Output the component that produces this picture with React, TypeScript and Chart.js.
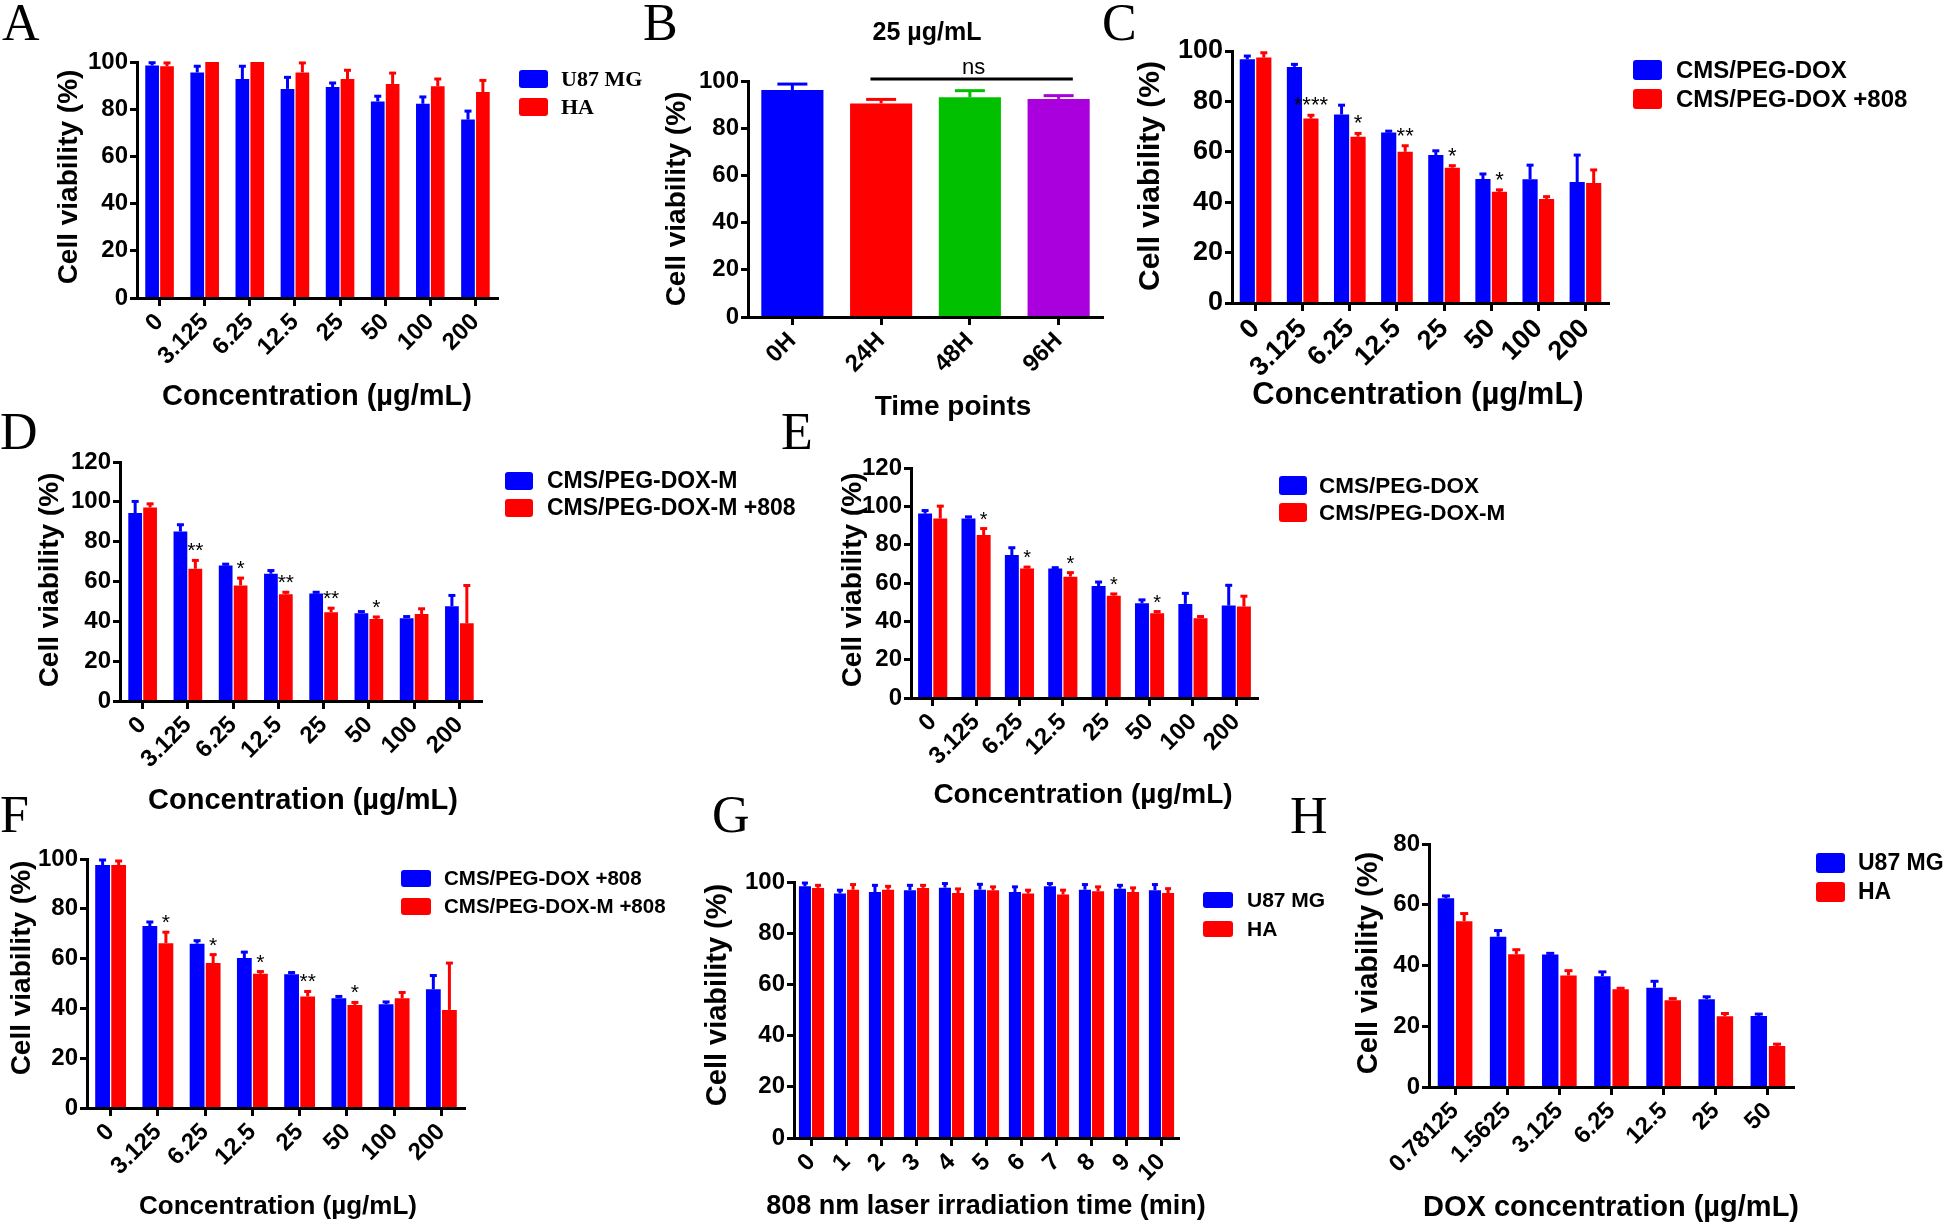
import React, { useEffect, useRef } from 'react';
import { Chart, registerables } from 'chart.js';

Chart.register(...registerables);

const PAGE_W = 1944;
const PAGE_H = 1224;
const SANS = '"Liberation Sans", Arial, Helvetica, sans-serif';
const SERIF = '"Liberation Serif", "Times New Roman", Times, serif';
const BLUE = '#0000FF';
const RED = '#FF0000';
const GREEN = '#00C000';
const PURPLE = '#AA00DD';
const Y_W = 56;

// ---------- data ----------
const CONC_CATS = ['0', '3.125', '6.25', '12.5', '25', '50', '100', '200'];

// A
const A_U87 = [98.5, 95.6, 92.8, 88.6, 89.4, 83.3, 82.3, 75.6];
const A_U87_ERR = [1.2, 2.6, 5.4, 4.9, 1.7, 2.2, 2.9, 3.6];
const A_HA = [98.2, 100, 100, 95.6, 92.8, 90.7, 89.7, 87.3];
const A_HA_ERR = [1.4, 0, 0, 4.0, 3.7, 4.6, 3.1, 4.9];

// B
const B_CATS = ['0H', '24H', '48H', '96H'];
const B_VALS = [96.2, 90.5, 93.1, 92.4];
const B_ERR = [2.5, 1.7, 2.8, 1.4];
const B_COLORS = [BLUE, RED, GREEN, PURPLE];

// C
const C_DOX = [96.7, 93.7, 74.8, 67.7, 58.7, 49.2, 49.1, 48.0];
const C_DOX_ERR = [1.3, 1.0, 3.7, 0.5, 1.7, 2.0, 5.6, 10.7];
const C_DOX808 = [97.4, 73.2, 66.0, 60.0, 53.7, 44.1, 41.3, 47.6];
const C_DOX808_ERR = [1.9, 1.3, 1.3, 2.4, 0.8, 0.8, 0.9, 5.2];
const C_STARS = ['', '****', '*', '**', '*', '*', '', ''];

// D
const D_M = [94.4, 85.1, 68.0, 63.9, 54.0, 44.1, 41.6, 47.6];
const D_M_ERR = [5.8, 3.4, 0.7, 1.6, 0.6, 0.8, 0.8, 5.4];
const D_M808 = [97.2, 66.4, 58.0, 53.6, 44.6, 41.2, 43.7, 39.0];
const D_M808_ERR = [1.8, 4.2, 3.7, 1.0, 2.0, 1.0, 2.6, 19.0];
const D_STARS = ['', '**', '*', '**', '**', '*', '', ''];

// E
const E_DOX = [96.2, 93.6, 74.6, 67.6, 58.4, 49.4, 49.1, 48.2];
const E_DOX_ERR = [1.6, 0.9, 3.8, 0.4, 2.1, 1.8, 5.5, 10.6];
const E_M = [93.6, 85.0, 67.6, 63.3, 53.4, 44.2, 41.6, 47.7];
const E_M_ERR = [6.5, 3.4, 0.7, 2.1, 0.9, 0.9, 0.9, 5.4];
const E_STARS = ['', '*', '*', '*', '*', '*', '', ''];

// F
const F_DOX808 = [97.6, 73.1, 66.0, 60.2, 53.7, 44.1, 41.7, 47.7];
const F_DOX808_ERR = [2.0, 1.6, 1.2, 2.4, 0.7, 0.7, 0.9, 5.5];
const F_M808 = [97.6, 66.2, 58.2, 53.9, 44.8, 41.4, 44.1, 39.4];
const F_M808_ERR = [1.6, 4.4, 3.4, 0.9, 2.0, 1.0, 2.3, 18.8];
const F_STARS = ['', '*', '*', '*', '**', '*', '', ''];

// G
const G_CATS = ['0', '1', '2', '3', '4', '5', '6', '7', '8', '9', '10'];
const G_U87 = [98.3, 95.5, 96.1, 96.8, 97.8, 97.0, 96.1, 98.3, 97.0, 97.4, 96.8];
const G_U87_ERR = [1.3, 1.3, 2.6, 1.9, 1.6, 2.1, 2.0, 1.1, 2.0, 1.3, 2.2];
const G_HA = [97.7, 97.0, 97.0, 97.7, 95.7, 96.8, 95.5, 95.1, 96.4, 96.1, 95.7];
const G_HA_ERR = [1.0, 2.0, 1.3, 1.0, 1.6, 1.3, 1.3, 1.7, 1.7, 1.6, 1.7];

// H
const H_CATS = ['0.78125', '1.5625', '3.125', '6.25', '12.5', '25', '50'];
const H_U87 = [62.1, 49.5, 43.6, 36.5, 32.7, 28.9, 23.4];
const H_U87_ERR = [0.8, 2.0, 0.4, 1.4, 2.1, 0.8, 0.6];
const H_HA = [54.6, 43.7, 36.7, 32.2, 28.6, 23.3, 13.5];
const H_HA_ERR = [2.5, 1.5, 1.6, 0.3, 0.5, 0.9, 0.6];

// ---------- layout ----------
type Series = { label: string; values: number[]; errors: number[]; color: string | string[] };
type Legend = { x: number; ys: number[]; w: number; h: number; textX: number; size: number; family: string };
type Panel = {
  letter: string;
  letterX: number;
  letterY: number;
  plot: { left: number; right: number; top: number; bottom: number };
  yMax: number;
  yStep: number;
  categories: string[];
  series: Series[];
  catPct: number;
  barPct: number;
  capW: number;
  tickSize: number;
  xTitle: string;
  xTitleX: number;
  xTitleY: number;
  xTitleSize: number;
  yTitleX: number;
  yTitleY: number;
  yTitleSize: number;
  legend?: Legend;
  stars?: string[];
  starSize?: number;
  topTitle?: { text: string; x: number; y: number; size: number };
  ns?: { from: number; to: number; text: string; size: number };
};

const Y_TITLE = 'Cell viability (%)';
const CONC_TITLE = 'Concentration (µg/mL)';

const PANELS: Panel[] = [
  {
    letter: 'A', letterX: 2, letterY: 40,
    plot: { left: 137, right: 498, top: 62, bottom: 298 },
    yMax: 100, yStep: 20, categories: CONC_CATS,
    series: [
      { label: 'U87 MG', values: A_U87, errors: A_U87_ERR, color: BLUE },
      { label: 'HA', values: A_HA, errors: A_HA_ERR, color: RED },
    ],
    catPct: 0.66, barPct: 0.92, capW: 7, tickSize: 24,
    xTitle: CONC_TITLE, xTitleX: 317, xTitleY: 397, xTitleSize: 29,
    yTitleX: 69, yTitleY: 177, yTitleSize: 28,
    legend: { x: 519, ys: [70, 98], w: 29, h: 18, textX: 561, size: 22, family: SERIF },
  },
  {
    letter: 'B', letterX: 643, letterY: 40,
    plot: { left: 748, right: 1103, top: 81, bottom: 317 },
    yMax: 100, yStep: 20, categories: B_CATS,
    series: [{ label: '25 µg/mL', values: B_VALS, errors: B_ERR, color: B_COLORS }],
    catPct: 0.7, barPct: 1.0, capW: 30, tickSize: 24,
    xTitle: 'Time points', xTitleX: 953, xTitleY: 407, xTitleSize: 28,
    yTitleX: 677, yTitleY: 199, yTitleSize: 28,
    topTitle: { text: '25 µg/mL', x: 927, y: 33, size: 25 },
    ns: { from: 1, to: 3, text: 'ns', size: 22 },
  },
  {
    letter: 'C', letterX: 1102, letterY: 40,
    plot: { left: 1232, right: 1609, top: 51, bottom: 303 },
    yMax: 100, yStep: 20, categories: CONC_CATS,
    series: [
      { label: 'CMS/PEG-DOX', values: C_DOX, errors: C_DOX_ERR, color: BLUE },
      { label: 'CMS/PEG-DOX +808', values: C_DOX808, errors: C_DOX808_ERR, color: RED },
    ],
    catPct: 0.7, barPct: 0.92, capW: 7, tickSize: 27,
    xTitle: CONC_TITLE, xTitleX: 1418, xTitleY: 395, xTitleSize: 31,
    yTitleX: 1151, yTitleY: 176, yTitleSize: 30,
    legend: { x: 1633, ys: [60, 89], w: 29, h: 20, textX: 1676, size: 24, family: SANS },
    stars: C_STARS, starSize: 22,
  },
  {
    letter: 'D', letterX: 0, letterY: 449,
    plot: { left: 120, right: 482, top: 462, bottom: 701 },
    yMax: 120, yStep: 20, categories: CONC_CATS,
    series: [
      { label: 'CMS/PEG-DOX-M', values: D_M, errors: D_M_ERR, color: BLUE },
      { label: 'CMS/PEG-DOX-M +808', values: D_M808, errors: D_M808_ERR, color: RED },
    ],
    catPct: 0.66, barPct: 0.92, capW: 7, tickSize: 24,
    xTitle: CONC_TITLE, xTitleX: 303, xTitleY: 801, xTitleSize: 29,
    yTitleX: 50, yTitleY: 580, yTitleSize: 28,
    legend: { x: 505, ys: [472, 499], w: 28, h: 18, textX: 547, size: 23, family: SANS },
    stars: D_STARS, starSize: 21,
  },
  {
    letter: 'E', letterX: 781, letterY: 449,
    plot: { left: 911, right: 1258, top: 468, bottom: 698 },
    yMax: 120, yStep: 20, categories: CONC_CATS,
    series: [
      { label: 'CMS/PEG-DOX', values: E_DOX, errors: E_DOX_ERR, color: BLUE },
      { label: 'CMS/PEG-DOX-M', values: E_M, errors: E_M_ERR, color: RED },
    ],
    catPct: 0.7, barPct: 0.92, capW: 7, tickSize: 24,
    xTitle: CONC_TITLE, xTitleX: 1083, xTitleY: 795, xTitleSize: 28,
    yTitleX: 853, yTitleY: 580, yTitleSize: 28,
    legend: { x: 1279, ys: [476, 503], w: 28, h: 19, textX: 1319, size: 22.5, family: SANS },
    stars: E_STARS, starSize: 20,
  },
  {
    letter: 'F', letterX: 0, letterY: 832,
    plot: { left: 87, right: 465, top: 859, bottom: 1108 },
    yMax: 100, yStep: 20, categories: CONC_CATS,
    series: [
      { label: 'CMS/PEG-DOX +808', values: F_DOX808, errors: F_DOX808_ERR, color: BLUE },
      { label: 'CMS/PEG-DOX-M +808', values: F_M808, errors: F_M808_ERR, color: RED },
    ],
    catPct: 0.68, barPct: 0.92, capW: 7, tickSize: 24,
    xTitle: CONC_TITLE, xTitleX: 278, xTitleY: 1207, xTitleSize: 26,
    yTitleX: 22, yTitleY: 968, yTitleSize: 28,
    legend: { x: 401, ys: [870, 898], w: 30, h: 17, textX: 444, size: 20.5, family: SANS },
    stars: F_STARS, starSize: 21,
  },
  {
    letter: 'G', letterX: 712, letterY: 832,
    plot: { left: 794, right: 1179, top: 882, bottom: 1138 },
    yMax: 100, yStep: 20, categories: G_CATS,
    series: [
      { label: 'U87 MG', values: G_U87, errors: G_U87_ERR, color: BLUE },
      { label: 'HA', values: G_HA, errors: G_HA_ERR, color: RED },
    ],
    catPct: 0.75, barPct: 0.92, capW: 6, tickSize: 24,
    xTitle: '808 nm laser irradiation time (min)', xTitleX: 986, xTitleY: 1207, xTitleSize: 27,
    yTitleX: 718, yTitleY: 995, yTitleSize: 29,
    legend: { x: 1203, ys: [892, 921], w: 30, h: 16, textX: 1247, size: 21, family: SANS },
  },
  {
    letter: 'H', letterX: 1290, letterY: 833,
    plot: { left: 1429, right: 1794, top: 844, bottom: 1087 },
    yMax: 80, yStep: 20, categories: H_CATS,
    series: [
      { label: 'U87 MG', values: H_U87, errors: H_U87_ERR, color: BLUE },
      { label: 'HA', values: H_HA, errors: H_HA_ERR, color: RED },
    ],
    catPct: 0.7, barPct: 0.9, capW: 8, tickSize: 24,
    xTitle: 'DOX concentration (µg/mL)', xTitleX: 1611, xTitleY: 1208, xTitleSize: 29,
    yTitleX: 1369, yTitleY: 963, yTitleSize: 29,
    legend: { x: 1816, ys: [853, 882], w: 29, h: 20, textX: 1858, size: 23, family: SANS },
  },
];

function colorAt(s: Series, i: number): string {
  return Array.isArray(s.color) ? s.color[i] : s.color;
}

function drawErrors(chart: any, p: Panel) {
  const ctx = chart.ctx as CanvasRenderingContext2D;
  const y = chart.scales.y;
  ctx.save();
  p.series.forEach((s, di) => {
    const meta = chart.getDatasetMeta(di);
    meta.data.forEach((bar: any, i: number) => {
      const err = s.errors[i];
      if (!err) return;
      const top = y.getPixelForValue(s.values[i]);
      const et = y.getPixelForValue(s.values[i] + err);
      ctx.strokeStyle = colorAt(s, i);
      ctx.lineWidth = 3;
      ctx.lineCap = 'butt';
      ctx.beginPath();
      ctx.moveTo(bar.x, top);
      ctx.lineTo(bar.x, et);
      ctx.stroke();
      ctx.beginPath();
      ctx.moveTo(bar.x - p.capW / 2, et);
      ctx.lineTo(bar.x + p.capW / 2, et);
      ctx.stroke();
    });
  });
  ctx.restore();
}

function drawText(chart: any, p: Panel) {
  const ctx = chart.ctx as CanvasRenderingContext2D;
  const xs = chart.scales.x;
  const ys = chart.scales.y;
  ctx.save();
  ctx.fillStyle = '#000';

  // panel letter
  ctx.font = `52px ${SERIF}`;
  ctx.textAlign = 'left';
  ctx.textBaseline = 'alphabetic';
  ctx.fillText(p.letter, p.letterX, p.letterY);

  // axis titles
  ctx.font = `bold ${p.xTitleSize}px ${SANS}`;
  ctx.textAlign = 'center';
  ctx.textBaseline = 'middle';
  ctx.fillText(p.xTitle, p.xTitleX, p.xTitleY);

  ctx.save();
  ctx.translate(p.yTitleX, p.yTitleY);
  ctx.rotate(-Math.PI / 2);
  ctx.font = `bold ${p.yTitleSize}px ${SANS}`;
  ctx.fillText(Y_TITLE, 0, 0);
  ctx.restore();

  // legend
  if (p.legend) {
    const L = p.legend;
    p.series.forEach((s, i) => {
      const by = L.ys[i];
      ctx.fillStyle = colorAt(s, 0);
      ctx.beginPath();
      (ctx as any).roundRect(L.x, by, L.w, L.h, 3);
      ctx.fill();
      ctx.fillStyle = '#000';
      ctx.font = `bold ${L.size}px ${L.family}`;
      ctx.textAlign = 'left';
      ctx.textBaseline = 'middle';
      ctx.fillText(s.label, L.textX, by + L.h / 2 + 1);
    });
  }

  // significance stars above the second series
  if (p.stars && p.series.length > 1) {
    const s = p.series[1];
    const meta = chart.getDatasetMeta(1);
    ctx.font = `${p.starSize || 20}px ${SANS}`;
    ctx.textAlign = 'center';
    ctx.textBaseline = 'alphabetic';
    ctx.fillStyle = '#000';
    p.stars.forEach((st, i) => {
      if (!st) return;
      const bar = meta.data[i];
      const et = ys.getPixelForValue(s.values[i] + s.errors[i]);
      ctx.fillText(st, bar.x, et - 3);
    });
  }

  // top title
  if (p.topTitle) {
    ctx.font = `bold ${p.topTitle.size}px ${SANS}`;
    ctx.textAlign = 'center';
    ctx.textBaseline = 'middle';
    ctx.fillText(p.topTitle.text, p.topTitle.x, p.topTitle.y);
  }

  // ns bracket
  if (p.ns) {
    const cw = (xs.right - xs.left) / p.categories.length;
    const x1 = xs.getPixelForValue(p.ns.from) - cw * 0.12;
    const x2 = xs.getPixelForValue(p.ns.to) + cw * 0.16;
    const ly = ys.getPixelForValue(p.yMax) - 2;
    ctx.strokeStyle = '#000';
    ctx.lineWidth = 3;
    ctx.beginPath();
    ctx.moveTo(x1, ly);
    ctx.lineTo(x2, ly);
    ctx.stroke();
    ctx.font = `${p.ns.size}px ${SANS}`;
    ctx.textAlign = 'center';
    ctx.textBaseline = 'alphabetic';
    ctx.fillText(p.ns.text, (x1 + x2) / 2 + 2, ly - 5);
  }
  ctx.restore();
}

function PanelChart({ p }: { p: Panel }) {
  const ref = useRef<HTMLCanvasElement>(null);
  useEffect(() => {
    const canvas = ref.current;
    if (!canvas) return;
    const xH = Math.min(120, PAGE_H - p.plot.bottom);
    const tickFont = { family: SANS, weight: 'bold' as const, size: p.tickSize };
    const chart = new Chart(canvas, {
      type: 'bar',
      data: {
        labels: p.categories,
        datasets: p.series.map((s) => ({
          label: s.label,
          data: s.values,
          backgroundColor: s.color as any,
          borderWidth: 0,
          categoryPercentage: p.catPct,
          barPercentage: p.barPct,
        })),
      },
      options: {
        responsive: false,
        animation: false,
        devicePixelRatio: 1,
        events: [],
        layout: {
          padding: {
            left: p.plot.left - Y_W,
            right: PAGE_W - p.plot.right,
            top: p.plot.top,
            bottom: PAGE_H - p.plot.bottom - xH,
          },
        },
        plugins: {
          legend: { display: false },
          tooltip: { enabled: false },
          title: { display: false },
        },
        scales: {
          x: {
            type: 'category',
            offset: true,
            grid: {
              display: true,
              drawOnChartArea: false,
              drawTicks: true,
              tickLength: 8,
              tickWidth: 3,
              tickColor: '#000',
              color: '#000',
              offset: false,
              z: 1,
            },
            border: { display: true, color: '#000', width: 3, z: 1 },
            ticks: {
              color: '#000',
              font: tickFont,
              minRotation: 45,
              maxRotation: 45,
              autoSkip: false,
              padding: 2,
            },
            afterFit: (scale: any) => {
              scale.height = xH;
            },
          },
          y: {
            min: 0,
            max: p.yMax,
            grid: {
              display: true,
              drawOnChartArea: false,
              drawTicks: true,
              tickLength: 7,
              tickWidth: 3,
              tickColor: '#000',
              color: '#000',
              z: 1,
            },
            border: { display: true, color: '#000', width: 3, z: 1 },
            ticks: { stepSize: p.yStep, color: '#000', font: tickFont, padding: 2 },
            afterFit: (scale: any) => {
              scale.width = Y_W;
            },
          },
        },
      },
      plugins: [
        {
          id: 'deco' + p.letter,
          afterDatasetsDraw: (c: any) => drawErrors(c, p),
          afterDraw: (c: any) => drawText(c, p),
        },
      ],
    } as any);
    return () => chart.destroy();
  }, [p]);
  return (
    <canvas
      ref={ref}
      width={PAGE_W}
      height={PAGE_H}
      style={{ position: 'absolute', left: 0, top: 0, width: PAGE_W, height: PAGE_H }}
    />
  );
}

export default function App() {
  return (
    <div
      style={{
        position: 'fixed',
        left: 0,
        top: 0,
        width: PAGE_W,
        height: PAGE_H,
        background: '#fff',
        overflow: 'hidden',
      }}
    >
      {PANELS.map((p) => (
        <PanelChart key={p.letter} p={p} />
      ))}
    </div>
  );
}
